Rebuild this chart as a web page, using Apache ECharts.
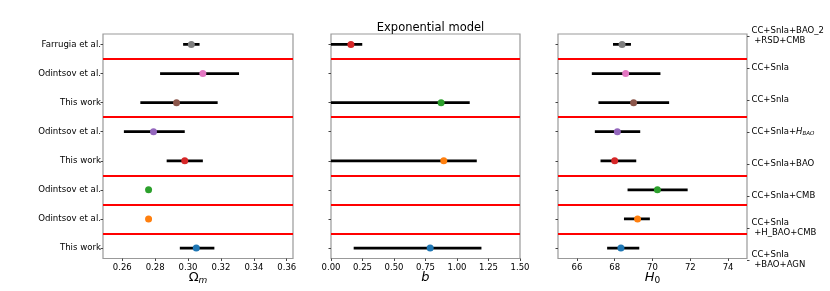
<!DOCTYPE html>
<html><head><meta charset="utf-8">
<script src="https://cdn.jsdelivr.net/npm/echarts@6/dist/echarts.min.js"></script>
<style>html,body{margin:0;padding:0;background:#fff}#c{width:830px;height:291px}</style>
</head><body><div id="c"></div>
<script>
// Rows listed bottom (index 0) to top (index 7)
const rowLabels = ['This work','Odintsov et al.','Odintsov et al.','This work','Odintsov et al.','This work','Odintsov et al.','Farrugia et al.'];
const datasetLabels = ['CC+SnIa\n +BAO+AGN','CC+SnIa\n +H_BAO+CMB','CC+SnIa+CMB','CC+SnIa+BAO','{n|CC+SnIa+}{h|H}{b|BAO}','CC+SnIa','CC+SnIa','CC+SnIa+BAO_2\n +RSD+CMB'];
const rowColors = ['#1f77b4','#ff7f0e','#2ca02c','#d62728','#9467bd','#8c564b','#e377c2','#7f7f7f'];
const rowIndex = [0,1,2,3,4,5,6,7];

const omegaM   = [0.305,0.276,0.276,0.298,0.279,0.293,0.309,0.302];
const omegaLo  = [0.295,null,null,0.287,0.261,0.271,0.283,0.297];
const omegaHi  = [0.316,null,null,0.309,0.298,0.318,0.331,0.307];

const bRows = [0,3,5,7];
const bVal  = [0.787,0.895,0.874,0.158];
const bLo   = [0.180,0,0,0];
const bHi   = [1.194,1.157,1.101,0.248];
const bColors = ['#1f77b4','#ff7f0e','#2ca02c','#d62728'];

const h0    = [68.33,69.21,70.26,68.00,68.14,69.00,68.58,68.39];
const h0Lo  = [67.60,68.49,68.68,67.25,66.95,67.14,66.79,67.91];
const h0Hi  = [69.30,69.86,71.86,69.14,69.35,70.88,70.42,68.86];

const separators = [0.5,1.5,2.5,4.5,6.5];
const omegaTicks = [0.26,0.28,0.30,0.32,0.34,0.36];
const bTicks = [0,0.25,0.5,0.75,1,1.25,1.5];
const h0Ticks = [66,68,70,72,74];

const FONT = 'DejaVu Sans';
const chart = echarts.init(document.getElementById('c'), null, {renderer:'canvas'});

function errSeries(gi, lo, hi, rows) {
  const data = [];
  lo.forEach((l,i)=>{ if (l!=null) data.push([l, hi[i], rows[i]]); });
  return {
    type:'custom', xAxisIndex:gi, yAxisIndex:gi, data, z:2, silent:true, clip:true,
    encode:{x:[0,1], y:2},
    renderItem:(params, api)=>{
      const p1 = api.coord([api.value(0), api.value(2)]);
      const p2 = api.coord([api.value(1), api.value(2)]);
      return {type:'line', shape:{x1:p1[0],y1:p1[1],x2:p2[0],y2:p2[1]}, style:{stroke:'#000', lineWidth:2.8}};
    }
  };
}
function ptSeries(gi, vals, rows, colors) {
  return {
    type:'scatter', xAxisIndex:gi, yAxisIndex:gi, symbol:'circle', symbolSize:7, z:4, silent:true,
    data: vals.map((v,i)=>({value:[v, rows[i]], itemStyle:{color:colors[i], opacity:1}})),
    markLine:{silent:true, symbol:['none','none'], label:{show:false}, animation:false,
      lineStyle:{color:'#ff0000', width:2, type:'solid'},
      emphasis:{disabled:true},
      data: separators.map(y=>({yAxis:y}))}
  };
}
function xAx(gi, min, max, ticks, fmt, name, rich) {
  return {
    type:'value', gridIndex:gi, min, max, splitLine:{show:false}, axisLine:{show:false, onZero:false},
    axisTick:{show:true, length:2.5, customValues:ticks, lineStyle:{color:'#444', width:1}},
    axisLabel:{customValues:ticks, formatter:fmt, fontSize:8.5, color:'#000', fontFamily:FONT, margin:4.5},
    name, nameLocation:'middle', nameGap:11, nameMoveOverlap:false,
    nameTextStyle:{color:'#000', fontFamily:FONT, rich}
  };
}
function yAx(gi, showLabels) {
  return {
    type:'value', gridIndex:gi, min:-0.36, max:7.36, splitLine:{show:false}, axisLine:{show:false, onZero:false},
    axisTick:{show:true, length:2.5, customValues:rowIndex, lineStyle:{color:'#444', width:1}},
    axisLabel:{show:showLabels, customValues:rowIndex, formatter:v=>rowLabels[Math.round(v)],
      fontSize:8.6, color:'#000', fontFamily:FONT, margin:2}
  };
}
const nameRich = {
  o:{fontSize:13, lineHeight:16, fontFamily:FONT, color:'#000'},
  i:{fontSize:13, lineHeight:16, fontFamily:FONT, fontStyle:'italic', color:'#000'},
  s:{fontSize:9, lineHeight:9, fontFamily:FONT, fontStyle:'italic', verticalAlign:'bottom', color:'#000'},
  u:{fontSize:9, lineHeight:9, fontFamily:FONT, verticalAlign:'bottom', color:'#000'}
};
const gridBase = {top:34, height:224.5, show:true, borderColor:'#999', borderWidth:1.2, backgroundColor:'transparent', outerBoundsMode:'none', containLabel:false};

chart.setOption({
  animation:false,
  backgroundColor:'#fff',
  title:{text:'Exponential model', left:425.5, top:17, textAlign:'center',
    textStyle:{fontSize:11.5, fontWeight:'normal', color:'#000', fontFamily:FONT}},
  grid:[
    Object.assign({left:103, width:190}, gridBase),
    Object.assign({left:331, width:189}, gridBase),
    Object.assign({left:558, width:189}, gridBase),
    {left:558, width:189, top:36, height:224, show:false, outerBoundsMode:'none', containLabel:false}
  ],
  xAxis:[
    xAx(0, 0.2483, 0.3638, omegaTicks, v=>v.toFixed(2), '{o|Ω}{s|m}', nameRich),
    xAx(1, 0, 1.5, bTicks, v=>v.toFixed(2), '{i|b}', nameRich),
    xAx(2, 65, 75, h0Ticks, v=>String(Math.round(v)), '{i|H}{u|0}', nameRich),
    {type:'value', gridIndex:3, min:0, max:1, show:false, axisLine:{onZero:false}}
  ],
  yAxis:[
    yAx(0, true), yAx(1, false), yAx(2, false),
    {type:'value', gridIndex:3, position:'right', min:0, max:7, interval:1,
      splitLine:{show:false}, axisLine:{show:false, onZero:false},
      axisTick:{show:true, length:2.5, lineStyle:{color:'#444', width:1}},
      axisLabel:{formatter:v=>datasetLabels[Math.round(v)], fontSize:8.5, lineHeight:10, color:'#000',
        fontFamily:FONT, margin:4.5, align:'left',
        rich:{
          n:{fontSize:8.5, lineHeight:10, fontFamily:FONT, color:'#000'},
          h:{fontSize:8.5, lineHeight:10, fontFamily:FONT, fontStyle:'italic', color:'#000'},
          b:{fontSize:5.5, lineHeight:6, fontFamily:FONT, fontStyle:'italic', verticalAlign:'bottom', color:'#000'}
        }}}
  ],
  series:[
    errSeries(0, omegaLo, omegaHi, rowIndex),
    ptSeries(0, omegaM, rowIndex, rowColors),
    errSeries(1, bLo, bHi, bRows),
    ptSeries(1, bVal, bRows, bColors),
    errSeries(2, h0Lo, h0Hi, rowIndex),
    ptSeries(2, h0, rowIndex, rowColors)
  ]
});
</script>
</body></html>
